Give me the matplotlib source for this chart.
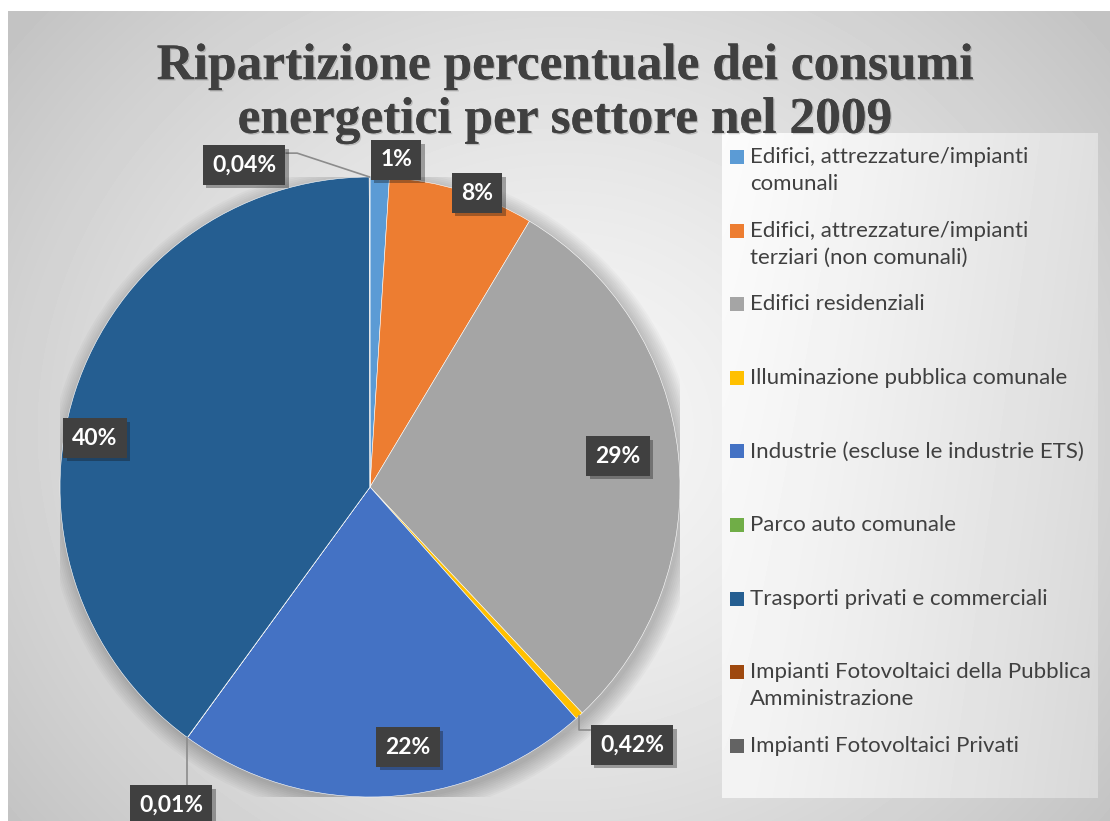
import numpy as np
import matplotlib
matplotlib.use("Agg")
import matplotlib.pyplot as plt
from matplotlib.patches import Rectangle, Circle
import matplotlib.patheffects as pe

# ---------------- data ----------------
categories = [
    "Edifici, attrezzature/impianti\ncomunali",
    "Edifici, attrezzature/impianti\nterziari (non comunali)",
    "Edifici residenziali",
    "Illuminazione pubblica comunale",
    "Industrie (escluse le industrie ETS)",
    "Parco auto comunale",
    "Trasporti privati e commerciali",
    "Impianti Fotovoltaici della Pubblica\nAmministrazione",
    "Impianti Fotovoltaici Privati",
]
values = [1.0, 7.6, 29.4, 0.42, 21.6, 0.01, 39.93, 0.0, 0.04]
colors = ["#5B9BD5", "#ED7D31", "#A5A5A5", "#FFC000", "#4472C4",
          "#70AD47", "#255E91", "#9E480E", "#636363"]
title = "Ripartizione percentuale dei consumi\nenergetici per settore nel 2009"

# label positions (pie units, centre = 0,0, radius = 1) -- None = no label
label_pos = [(0.084, 1.055), (0.345, 0.948), (0.80, 0.10), (0.845, -0.832),
             (0.123, -0.839), (-0.642, -1.026), (-0.887, 0.158), None,
             (-0.406, 1.039)]

W, H = 1110, 821
fig = plt.figure(figsize=(W / 100, H / 100), dpi=100)
fig.patch.set_facecolor("white")

# ---------------- background ----------------
bg = fig.add_axes([0, 0, 1, 1])
bg.set_xlim(0, W)
bg.set_ylim(H, 0)
bg.axis("off")
yy, xx = np.mgrid[11:H, 8:W]
r = np.hypot(xx - 560, (yy - 430) * 1.1)
t = np.clip(r / 700, 0, 1) ** 1.4
light, dark = 0.965, 0.765
img = light - (light - dark) * t
bg.imshow(img, cmap="gray", vmin=0, vmax=1, extent=(8, W, H, 11),
          interpolation="bilinear", aspect="auto", zorder=0)

# legend panel
ly, lx = np.mgrid[0:100, 0:100]
lg = 0.985 - 0.11 * (lx / 99) ** 1.2 - 0.03 * (ly / 99)
bg.imshow(lg, cmap="gray", vmin=0, vmax=1, extent=(722, 1098, 798, 133),
          interpolation="bilinear", aspect="auto", zorder=1)

# title
fig.text(565 / W, 1 - 94 / H, title, ha="center", va="center",
         fontsize=37, fontweight="bold", family="Liberation Serif",
         color="#404040", linespacing=1.22,
         path_effects=[pe.withSimplePatchShadow(offset=(1, -1), alpha=0.18),
                       pe.Normal()])

# ---------------- pie ----------------
cx, cy, R = 370, 487, 310
ax = fig.add_axes([(cx - R) / W, (H - cy - R) / H, 2 * R / W, 2 * R / H])
ax.set_facecolor("none")

# soft shadow
for k in range(10):
    ax.add_patch(Circle((0.01, -0.015), 1.0 + 0.006 * k, color="black",
                        alpha=0.025, lw=0, zorder=0))

wedges, _ = ax.pie(values, colors=colors, startangle=90, counterclock=False,
                   radius=1, wedgeprops=dict(edgecolor="white", linewidth=0.4))
for w in wedges:
    w.set_zorder(2)
ax.set_xlim(-1, 1)
ax.set_ylim(-1, 1)
ax.set_aspect("equal")
ax.axis("off")

total = sum(values)
frac = np.array(values) / total
cum = np.concatenate([[0], np.cumsum(frac)])


def anchor(i):
    th = 2 * np.pi * (cum[i] + frac[i] / 2)
    return np.sin(th), np.cos(th)


def fmt(v):
    p = v / total * 100
    if p >= 1:
        return f"{p:.0f}%"
    return f"{p:.2f}%".replace(".", ",")


# leader lines for small slices
lead = "#8c8c8c"
a = anchor(8)
ax.plot([a[0], -0.235, -0.27], [a[1], 1.077, 1.077], color=lead, lw=1.2,
        clip_on=False, zorder=3)
a = anchor(3)
ax.plot([a[0], a[0], 0.71], [a[1], -0.784, -0.784], color=lead, lw=1.2,
        clip_on=False, zorder=3)
a = anchor(5)
ax.plot([a[0], a[0]], [a[1], -0.977], color=lead, lw=1.2, clip_on=False,
        zorder=3)

for i, pos in enumerate(label_pos):
    if pos is None:
        continue
    t = ax.text(pos[0], pos[1], fmt(values[i]), ha="center", va="center",
                fontsize=16.5, fontweight="bold", family="Lato", color="white",
                clip_on=False, zorder=5,
                bbox=dict(boxstyle="square,pad=0.4", fc="#404040", ec="none"))
    t.get_bbox_patch().set_path_effects(
        [pe.withSimplePatchShadow(offset=(2.5, -2.5), alpha=0.35), pe.Normal()])

# ---------------- legend ----------------
y0, dy = 157, 73.6
for i, (lab, c) in enumerate(zip(categories, colors)):
    y = y0 + i * dy
    bg.add_patch(Rectangle((730, y - 7), 14, 14, color=c, lw=0, zorder=3))
    bg.text(750, y - 10, lab, ha="left", va="top", fontsize=16, family="Lato",
            color="#404040", linespacing=1.45, zorder=3)

fig.savefig("out.png", dpi=100)
